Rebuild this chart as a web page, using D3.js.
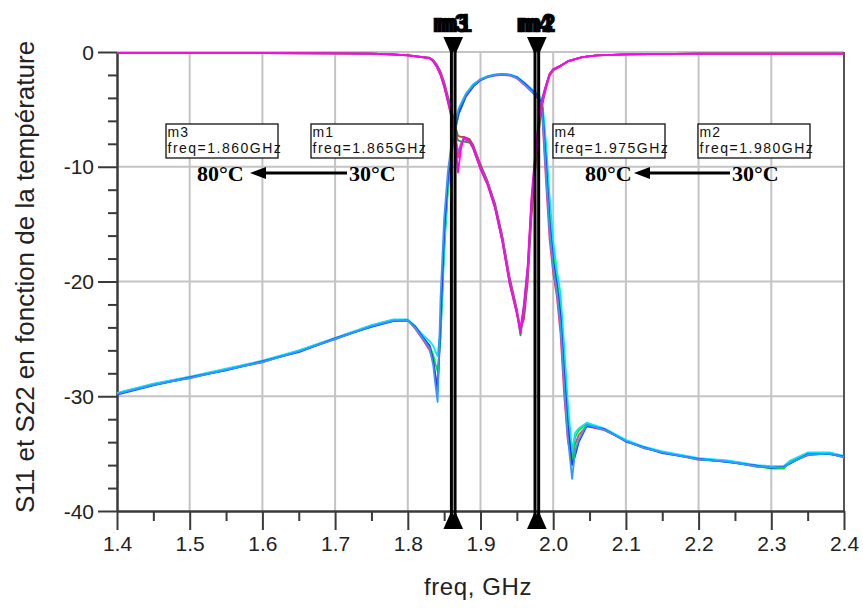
<!DOCTYPE html>
<html><head><meta charset="utf-8">
<script src="https://cdn.jsdelivr.net/npm/d3@7"></script>
<style>body{margin:0;background:#fff} svg{display:block}</style>
</head><body>
<svg id="c" width="863" height="608"></svg>
<script>
// ---------- data ----------
const freqS21 = [1.40,1.45,1.50,1.55,1.60,1.65,1.70,1.75,1.78,1.80,1.81,1.82,1.83,1.835,1.838,1.841,1.845,1.85,1.855,1.86,1.865,1.87,1.88,1.89,1.90,1.91,1.92,1.93,1.94,1.95,1.96,1.97,1.98,1.985,1.99,1.995,2.00,2.005,2.01,2.015,2.02,2.026,2.03,2.035,2.046,2.07,2.10,2.125,2.15,2.20,2.24,2.28,2.30,2.317,2.326,2.35,2.38,2.40];
const s21_a = [-29.75,-28.95,-28.45,-27.65,-27.05,-26.05,-25.05,-23.85,-23.35,-23.35,-24.1,-25.0,-26.0,-27.0,-28.2,-29.1,-24.5,-16.5,-11.8,-8.8,-6.8,-5.4,-3.9,-3.0,-2.45,-2.2,-2.05,-2.0,-2.05,-2.3,-2.85,-3.45,-4.1,-5.6,-11.2,-16.3,-19.3,-21.3,-24.5,-29.8,-33.8,-35.8,-34.2,-33.4,-32.6,-32.95,-33.85,-34.55,-34.85,-35.55,-35.65,-36.15,-36.15,-36.25,-35.75,-35.15,-34.95,-35.35];
const s21_b = [-29.8,-29.0,-28.4,-27.7,-27.0,-26.1,-25.0,-23.9,-23.4,-23.4,-24.0,-24.8,-25.6,-26.4,-27.2,-27.8,-25.0,-17.5,-12.2,-9.0,-6.9,-5.4,-3.8,-2.9,-2.4,-2.15,-2.0,-1.95,-2.0,-2.2,-2.7,-3.3,-3.8,-4.6,-8.8,-13.8,-17.5,-19.8,-22.0,-26.8,-31.5,-35.5,-33.6,-33.0,-32.4,-32.9,-33.9,-34.5,-34.9,-35.5,-35.7,-36.1,-36.3,-36.3,-35.7,-35.0,-35.0,-35.3];
const s21_c = [-29.7,-28.9,-28.3,-27.6,-26.9,-26.0,-24.9,-23.8,-23.3,-23.3,-23.9,-24.6,-25.2,-25.6,-26.1,-26.5,-24.0,-17.0,-11.5,-8.2,-6.2,-4.9,-3.6,-2.8,-2.35,-2.1,-1.95,-1.9,-1.95,-2.15,-2.65,-3.2,-3.7,-4.3,-7.8,-12.5,-16.5,-19.0,-21.0,-25.5,-30.5,-34.8,-33.2,-32.8,-32.3,-32.8,-33.8,-34.4,-34.8,-35.4,-35.6,-36.0,-36.1,-36.1,-35.6,-34.9,-34.9,-35.2];
const s21_d = [-29.85,-29.05,-28.35,-27.75,-26.95,-26.15,-24.95,-23.95,-23.45,-23.4,-23.9,-24.8,-25.6,-26.9,-28.3,-29.6,-23.5,-15.8,-11.2,-8.5,-6.6,-5.3,-3.8,-3.0,-2.45,-2.15,-2.0,-1.95,-2.0,-2.2,-2.7,-3.3,-3.9,-4.8,-9.5,-14.8,-18.3,-20.3,-23.0,-28.0,-32.5,-36.0,-35.2,-34.0,-32.6,-32.85,-33.95,-34.45,-34.95,-35.45,-35.75,-36.05,-36.25,-36.15,-35.85,-35.05,-35.05,-35.25];
const s21_e = [-29.8,-29.0,-28.4,-27.7,-27.0,-26.1,-25.0,-23.9,-23.4,-23.4,-24.0,-24.9,-25.8,-27.3,-29.0,-30.5,-21.5,-14.5,-10.5,-8.0,-6.3,-5.0,-3.7,-2.9,-2.4,-2.15,-2.0,-1.95,-2.0,-2.25,-2.8,-3.4,-4.0,-5.2,-10.5,-15.5,-18.8,-20.8,-23.8,-29.0,-33.5,-37.2,-34.8,-33.8,-32.5,-32.9,-33.9,-34.5,-34.9,-35.5,-35.7,-36.1,-36.2,-36.2,-35.8,-35.1,-35.0,-35.3];
const s21Colors = ["#ff3377","#00ee00","#00e8ff","#2233ff","#3399ff"];

const freqS11 = [1.40,1.50,1.60,1.70,1.75,1.78,1.80,1.82,1.83,1.835,1.84,1.845,1.85,1.855,1.86,1.865,1.869,1.873,1.877,1.885,1.89,1.90,1.91,1.92,1.93,1.94,1.95,1.955,1.96,1.965,1.97,1.975,1.98,1.985,1.99,1.995,2.00,2.01,2.02,2.04,2.06,2.10,2.20,2.30,2.40];
const s11_a = [-0.1,-0.1,-0.1,-0.12,-0.15,-0.2,-0.28,-0.42,-0.5,-0.7,-1.1,-1.7,-2.6,-3.8,-5.0,-6.4,-7.3,-7.4,-7.4,-7.6,-8.1,-9.8,-11.3,-13.2,-16.0,-19.6,-22.4,-24.2,-23.2,-20.0,-14.5,-10.5,-7.0,-4.6,-3.2,-2.1,-1.6,-1.25,-0.85,-0.45,-0.3,-0.2,-0.15,-0.15,-0.15];
const s11_b = [-0.1,-0.1,-0.1,-0.12,-0.15,-0.21,-0.29,-0.44,-0.52,-0.75,-1.2,-1.85,-2.8,-4.0,-5.3,-6.8,-7.7,-7.8,-7.8,-7.9,-8.3,-10.0,-11.4,-13.4,-16.2,-19.9,-22.6,-24.7,-22.5,-19.3,-13.6,-9.7,-6.5,-4.3,-3.0,-2.0,-1.55,-1.2,-0.82,-0.45,-0.3,-0.2,-0.15,-0.15,-0.15];
const s11_c = [-0.1,-0.1,-0.1,-0.12,-0.15,-0.21,-0.3,-0.45,-0.53,-0.78,-1.25,-1.9,-2.9,-4.2,-5.5,-7.0,-8.8,-8.0,-7.6,-7.8,-8.4,-10.1,-11.5,-13.5,-16.4,-20.0,-22.7,-24.3,-22.0,-18.8,-13.2,-9.3,-6.2,-4.1,-2.95,-1.95,-1.5,-1.2,-0.8,-0.45,-0.3,-0.2,-0.15,-0.15,-0.15];
const s11_d = [-0.1,-0.1,-0.1,-0.12,-0.15,-0.22,-0.3,-0.46,-0.54,-0.82,-1.3,-2.0,-3.0,-4.3,-5.7,-7.2,-9.2,-8.2,-7.5,-7.8,-8.4,-10.2,-11.6,-13.6,-16.5,-20.1,-22.8,-24.0,-22.2,-19.0,-13.4,-9.5,-6.3,-4.2,-3.0,-1.95,-1.5,-1.2,-0.8,-0.45,-0.3,-0.2,-0.15,-0.15,-0.15];
const s11_e = [-0.1,-0.1,-0.1,-0.12,-0.15,-0.22,-0.3,-0.45,-0.55,-0.8,-1.3,-2.0,-3.0,-4.3,-5.6,-7.5,-10.5,-8.5,-7.4,-7.8,-8.4,-10.2,-11.6,-13.6,-16.5,-20.2,-22.8,-24.5,-21.8,-18.5,-12.8,-9.0,-6.0,-4.0,-2.9,-1.9,-1.5,-1.2,-0.8,-0.45,-0.3,-0.2,-0.15,-0.15,-0.15];
const s11Colors = ["#a0522d","#1e9e3e","#8866ee","#ff3377","#ff00ff"];

const markerNames = ["m3","m1","m4","m2"];
const markerFreqs = [1.860,1.865,1.975,1.980];
const xMajorTicks = [1.4,1.5,1.6,1.7,1.8,1.9,2.0,2.1,2.2,2.3,2.4];
const xMinorTicks = [1.45,1.55,1.65,1.75,1.85,1.95,2.05,2.15,2.25,2.35];
const yMajorTicks = [0,-10,-20,-30,-40];
const yMinorTicks = [-2,-4,-6,-8,-12,-14,-16,-18,-22,-24,-26,-28,-32,-34,-36,-38];
const arrowLabels = [["80°C","30°C"],["80°C","30°C"]];
const xTitle = "freq, GHz";
const yTitle = "S11 et S22 en fonction de la température";

// ---------- drawing ----------
const svg = d3.select("#c");
const L = 117, R = 844, T = 52, B = 511;
const x = d3.scaleLinear().domain([1.4, 2.4]).range([L, R]);
const y = d3.scaleLinear().domain([-40, 0]).range([B, T]);
const axisCol = "#3a3a3a", gridCol = "#c4c4c4";
const sans = "'Liberation Sans', Arial, sans-serif";
const serif = "'Liberation Serif', 'Times New Roman', serif";

// grid
const g = svg.append("g");
g.selectAll("line.vx").data(xMajorTicks.slice(1, -1)).join("line")
  .attr("x1", d => x(d)).attr("x2", d => x(d)).attr("y1", T).attr("y2", B)
  .attr("stroke", gridCol).attr("stroke-width", 2);
g.selectAll("line.hy").data(yMajorTicks.slice(0, -1)).join("line")
  .attr("x1", L).attr("x2", R).attr("y1", d => y(d)).attr("y2", d => y(d))
  .attr("stroke", gridCol).attr("stroke-width", 2);
// right border
svg.append("line").attr("x1", R).attr("x2", R).attr("y1", T).attr("y2", B)
  .attr("stroke", "#555").attr("stroke-width", 2);

// axes
const xAxis = svg.append("g").attr("transform", `translate(0,${B})`)
  .call(d3.axisBottom(x).tickValues(xMajorTicks).tickSize(19).tickSizeOuter(0).tickPadding(6)
    .tickFormat(d3.format(".1f")));
const xMinor = svg.append("g").attr("transform", `translate(0,${B})`)
  .call(d3.axisBottom(x).tickValues(xMinorTicks).tickSize(10).tickSizeOuter(0).tickFormat(""));
const yAxis = svg.append("g").attr("transform", `translate(${L},0)`)
  .call(d3.axisLeft(y).tickValues(yMajorTicks).tickSize(19).tickSizeOuter(0).tickPadding(4)
    .tickFormat(d => String(d)));
const yMinor = svg.append("g").attr("transform", `translate(${L},0)`)
  .call(d3.axisLeft(y).tickValues(yMinorTicks).tickSize(9).tickSizeOuter(0).tickFormat(""));
[xAxis, xMinor, yAxis, yMinor].forEach(a => {
  a.selectAll("path.domain").attr("stroke", axisCol).attr("stroke-width", 2);
  a.selectAll(".tick line").attr("stroke", axisCol).attr("stroke-width", 2);
  a.selectAll(".tick text").attr("font-family", sans).attr("font-size", 21).attr("fill", "#222");
});
xAxis.selectAll(".tick text").attr("dy", "0.72em");
yAxis.selectAll(".tick text").attr("dy", "0.34em");

// axis titles
svg.append("text").attr("x", 478).attr("y", 595).attr("text-anchor", "middle")
  .attr("font-family", sans).attr("font-size", 24).attr("letter-spacing", 0.6)
  .attr("fill", "#222").text(xTitle);
svg.append("text").attr("transform", "translate(34,277) rotate(-90)").attr("text-anchor", "middle")
  .attr("font-family", sans).attr("font-size", 26).attr("fill", "#222").text(yTitle);

// marker readout boxes
const boxX = [166, 311, 553, 698];
markerNames.forEach((m, i) => {
  const bg = svg.append("g");
  bg.append("rect").attr("x", boxX[i]).attr("y", 124).attr("width", 112).attr("height", 34)
    .attr("fill", "#fff").attr("stroke", "#111").attr("stroke-width", 1.3);
  bg.append("text").attr("x", boxX[i] + 1.5).attr("y", 137).attr("font-family", sans)
    .attr("font-size", 14).attr("letter-spacing", 1.2).attr("fill", "#111").text(m);
  bg.append("text").attr("x", boxX[i] + 1.5).attr("y", 153).attr("font-family", sans)
    .attr("font-size", 14).attr("letter-spacing", 1.5).attr("fill", "#111")
    .text("freq=" + markerFreqs[i].toFixed(3) + "GHz");
});

// temperature arrows
const arrowSets = [{l: 197, tip: 250, end: 347, r: 349}, {l: 585, tip: 634, end: 730, r: 732}];
arrowSets.forEach((a, i) => {
  svg.append("text").attr("x", a.l).attr("y", 181).attr("font-family", serif)
    .attr("font-weight", "bold").attr("font-size", 22).attr("fill", "#000").text(arrowLabels[i][0]);
  svg.append("text").attr("x", a.r).attr("y", 181).attr("font-family", serif)
    .attr("font-weight", "bold").attr("font-size", 22).attr("fill", "#000").text(arrowLabels[i][1]);
  svg.append("path").attr("d", `M${a.tip},173 L${a.tip + 16},167 L${a.tip + 16},179 Z`).attr("fill", "#000");
  svg.append("line").attr("x1", a.tip + 14).attr("x2", a.end).attr("y1", 173).attr("y2", 173)
    .attr("stroke", "#000").attr("stroke-width", 3);
});

// curves
svg.append("clipPath").attr("id", "pc").append("rect")
  .attr("x", L).attr("y", T - 4).attr("width", R - L).attr("height", B - T + 4);
const line = d3.line().x(d => x(d[0])).y(d => y(d[1]));
const cg = svg.append("g").attr("clip-path", "url(#pc)");
[s21_a, s21_b, s21_c, s21_d, s21_e].forEach((s, i) => {
  cg.append("path").datum(freqS21.map((f, k) => [f, s[k]])).attr("d", line)
    .attr("fill", "none").attr("stroke", s21Colors[i]).attr("stroke-width", 1.8)
    .attr("stroke-linejoin", "round");
});
[s11_a, s11_b, s11_c, s11_d, s11_e].forEach((s, i) => {
  cg.append("path").datum(freqS11.map((f, k) => [f, s[k]])).attr("d", line)
    .attr("fill", "none").attr("stroke", s11Colors[i]).attr("stroke-width", 1.8)
    .attr("stroke-linejoin", "round");
});

// markers
markerFreqs.forEach((f, i) => {
  const cx = x(f);
  svg.append("line").attr("x1", cx).attr("x2", cx).attr("y1", 38).attr("y2", 528)
    .attr("stroke", "#000").attr("stroke-width", 3);
  svg.append("path").attr("d", `M${cx - 8},37 L${cx + 8},37 L${cx},55 Z`).attr("fill", "#000");
  svg.append("path").attr("d", `M${cx - 8},529 L${cx + 8},529 L${cx},511 Z`).attr("fill", "#000");
  svg.append("text").attr("x", cx - 1).attr("y", 32).attr("text-anchor", "middle")
    .attr("font-family", sans).attr("font-weight", "bold").attr("font-size", 25)
    .attr("stroke", "#000").attr("stroke-width", 0.7)
    .attr("fill", "#000").text(markerNames[i]);
});
</script>
</body></html>
